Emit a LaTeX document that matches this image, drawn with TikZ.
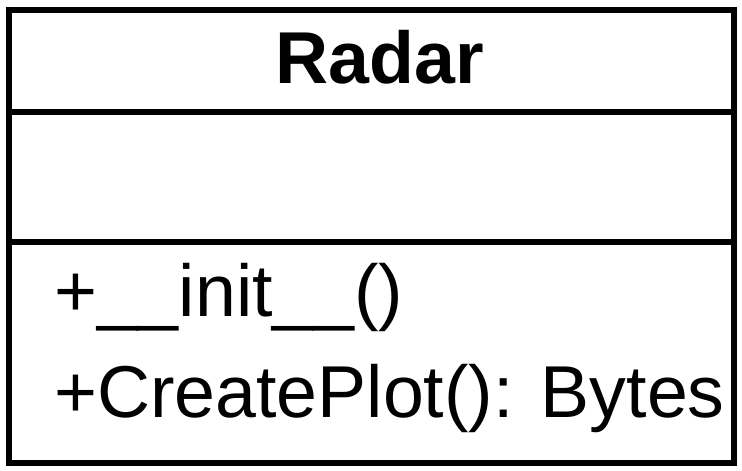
\documentclass[tikz,border=0pt]{standalone}
\usepackage{fontspec}
\setmainfont{Liberation Sans}
\begin{document}
\begin{tikzpicture}[x=1pt,y=-1pt,
  umlline/.style={line width=6pt, draw=black},
  titletext/.style={anchor=base, inner sep=0pt, font=\fontsize{73.5}{80}\selectfont\bfseries},
  membertext/.style={anchor=base west, inner sep=0pt, font=\fontsize{73.5}{80}\selectfont}]
\useasboundingbox (0,0) rectangle (742,471);
\coordinate (nw) at (8.5,10);
\coordinate (se) at (734,463);
\coordinate (d1w) at (8.5,112);
\coordinate (d1e) at (734,112);
\coordinate (d2w) at (8.5,242);
\coordinate (d2e) at (734,242);
\draw[umlline] (nw) rectangle (se);
\draw[umlline] (d1w) -- (d1e);
\draw[umlline] (d2w) -- (d2e);
\node[titletext] (title) at (379.5,83) {Radar};
\node[membertext] (m1) at (54,316) {+\_\_init\_\_()};
\node[membertext] (m2) at (54,417) {+CreatePlot(): Bytes};
\end{tikzpicture}
\end{document}
